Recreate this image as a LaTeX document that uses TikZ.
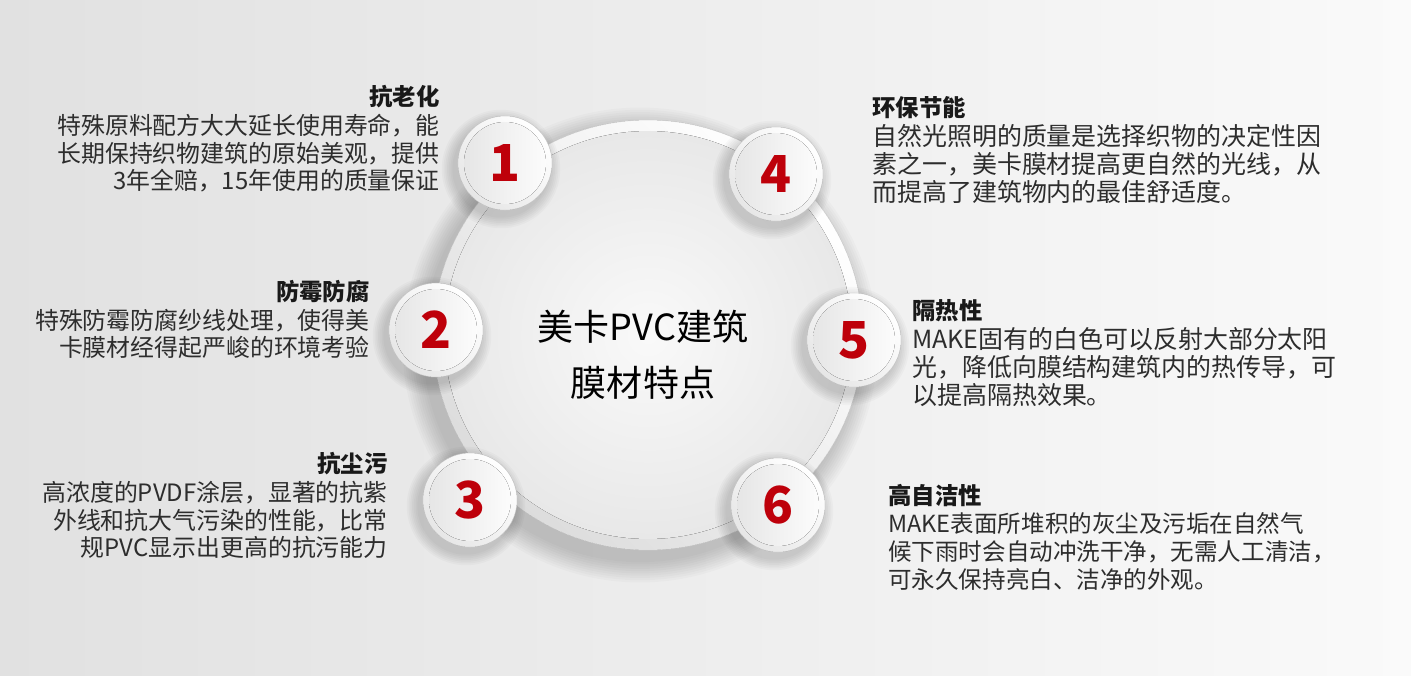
\documentclass[tikz,border=0pt]{standalone}
\usepackage{fontspec}
\setmainfont{Noto Sans CJK SC}
\definecolor{mkred}{RGB}{190,0,10}
\definecolor{mkink}{RGB}{45,45,45}
\definecolor{mkhead}{RGB}{25,25,25}
\definecolor{mkbgl}{RGB}{225,225,225}
\definecolor{mkbgr}{RGB}{250,250,250}
\definecolor{mkrim}{RGB}{220,220,220}
\definecolor{mkplate}{RGB}{232,232,232}
\definecolor{mkface}{RGB}{230,230,230}
\usetikzlibrary{positioning}
\tikzset{
  disc/.style={circle,minimum size=1.88cm,inner sep=0pt,text=mkred,
               font=\fontsize{29}{29}\selectfont\bfseries},
  head/.style={inner sep=0pt,text=mkhead,
               font=\fontsize{13.3}{15}\selectfont\bfseries},
  descL/.style={inner sep=0pt,text=mkink,align=right,
                font=\fontsize{13.6}{15.6}\selectfont},
  descR/.style={inner sep=0pt,text=mkink,align=left,
                font=\fontsize{14.2}{15.9}\selectfont},
}
\begin{document}
\begin{tikzpicture}[x=0.02cm,y=-0.02cm]
  % backdrop
  \fill[left color=mkbgl,right color=mkbgr] (0,0) rectangle (1411,676);

  % main plate
  \coordinate (hub) at (648,335);
  \foreach \k in {1,...,10}
    \fill[black,opacity=0.018] ([shift={(-8,10)}]hub) circle ({4.3cm+\k*0.45mm});
  \fill[top color=white,bottom color=mkrim,shading angle=-45,
        draw=black!12,line width=0.3pt] (hub) circle (4.3cm);
  \fill[inner color=white!75!mkplate,outer color=mkplate] (hub) circle (4.08cm);
  \node[align=center,text=black,font=\fontsize{20.5}{31.9}\selectfont]
       (title) at (643,355) {美卡PVC建筑\\膜材特点};

  % numbered discs
  \foreach \n/\x/\y in {1/505/163, 2/436/330, 3/470/500,
                        4/776/174, 5/854/340, 6/778/505}{
    \coordinate (c\n) at (\x,\y);
    \foreach \k in {1,...,7}
      \fill[black,opacity=0.022] ([shift={(-4,6)}]c\n) circle ({0.94cm+\k*0.35mm});
    \fill[top color=white,bottom color=mkrim!70!white,shading angle=-45,
          draw=black!15,line width=0.3pt] (c\n) circle (0.94cm);
    \fill[left color=mkface,right color=white!40!mkbgr] (c\n) circle (0.82cm);
    \node[disc] (n\n) at (c\n) {\n};
  }

  % left notes
  \node[descL,anchor=north east] (d1) at (440,114)
       {特殊原料配方大大延长使用寿命，能\\长期保持织物建筑的原始美观，提供\\3年全赔，15年使用的质量保证};
  \node[head,above=3.5pt of d1.north east,anchor=south east] (h1) {抗老化};

  \node[descL,anchor=north east] (d2) at (370,309)
       {特殊防霉防腐纱线处理，使得美\\卡膜材经得起严峻的环境考验};
  \node[head,above=3.5pt of d2.north east,anchor=south east] (h2) {防霉防腐};

  \node[descL,anchor=north east] (d3) at (388,481)
       {高浓度的PVDF涂层，显著的抗紫\\外线和抗大气污染的性能，比常\\规PVC显示出更高的抗污能力};
  \node[head,above=3.5pt of d3.north east,anchor=south east] (h3) {抗尘污};

  % right notes
  \node[descR,anchor=north west] (d4) at (872,124)
       {自然光照明的质量是选择织物的决定性因\\素之一，美卡膜材提高更自然的光线，从\\而提高了建筑物内的最佳舒适度。};
  \node[head,above=3pt of d4.north west,anchor=south west] (h4) {环保节能};

  \node[descR,anchor=north west] (d5) at (912,327)
       {MAKE固有的白色可以反射大部分太阳\\光，降低向膜结构建筑内的热传导，可\\以提高隔热效果。};
  \node[head,above=3pt of d5.north west,anchor=south west] (h5) {隔热性};

  \node[descR,anchor=north west,font=\fontsize{13.4}{15.9}\selectfont] (d6) at (888,512)
       {MAKE表面所堆积的灰尘及污垢在自然气\\候下雨时会自动冲洗干净，无需人工清洁，\\可永久保持亮白、洁净的外观。};
  \node[head,above=3pt of d6.north west,anchor=south west] (h6) {高自洁性};
\end{tikzpicture}
\end{document}
